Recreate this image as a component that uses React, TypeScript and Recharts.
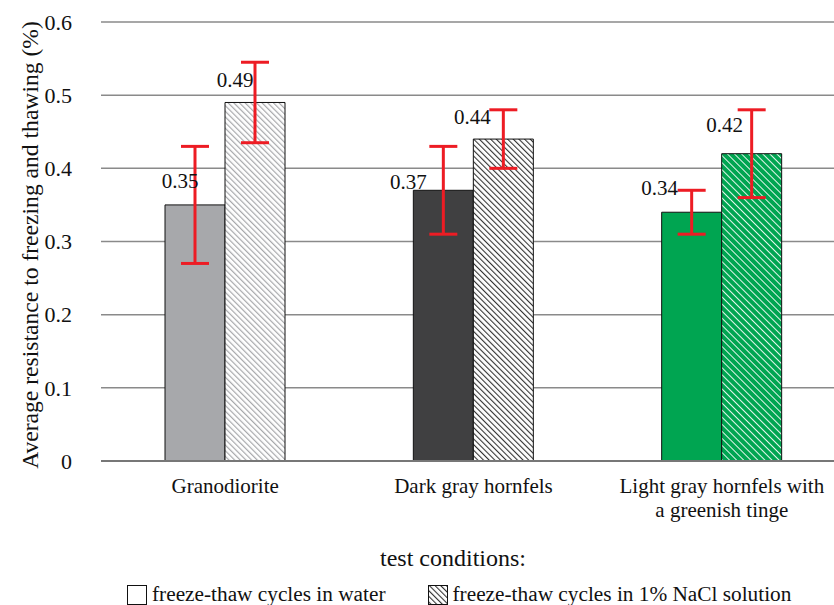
import { BarChart, Bar, XAxis, YAxis, CartesianGrid, ErrorBar, Cell, LabelList } from 'recharts'

const categories = ['Granodiorite', 'Dark gray hornfels', 'Light gray hornfels with\na greenish tinge']
const waterValues = [0.35, 0.37, 0.34]
const waterErrors = [0.08, 0.06, 0.03]
const naclValues = [0.49, 0.44, 0.42]
const naclErrors = [0.055, 0.04, 0.06]
const yTicks = [0, 0.1, 0.2, 0.3, 0.4, 0.5, 0.6]

const seriesNames = ['freeze-thaw cycles in water', 'freeze-thaw cycles in 1% NaCl solution']

// fills per category
const waterFills = ['#A7A8AB', '#404041', '#00A551']
const naclFills = ['url(#hatchLight)', 'url(#hatchDark)', 'url(#hatchGreen)']

// manual label nudges (like the hand-placed labels in the original)
const waterLabelShift = [[-15, -24], [-35, -8], [-32, -24]]
const naclLabelShift = [[-20, -22], [-31, -22], [-27, -29]]

const data = categories.map((name, i) => ({
  name,
  water: waterValues[i],
  waterErr: waterErrors[i],
  nacl: naclValues[i],
  naclErr: naclErrors[i],
}))

const FONT = 'Liberation Serif'

const makeLabel = (shift: number[][]) => (props: any) => {
  const { x, y, width, value, index } = props
  const [dx, dy] = shift[index] ?? [0, -10]
  return (
    <text
      x={x + width / 2 + dx}
      y={y + dy}
      textAnchor="middle"
      dominantBaseline="central"
      fontSize={21}
      style={{ fontFamily: FONT }}
      fill="#111"
    >
      {Number(value).toFixed(2)}
    </text>
  )
}

const CategoryTick = (props: any) => {
  const { x, y, payload } = props
  const lines = String(payload.value).split('\n')
  return (
    <g>
      {lines.map((line, i) => (
        <text
          key={i}
          x={x}
          y={y + 17 + i * 24}
          textAnchor="middle"
          dominantBaseline="central"
          fontSize={21}
          style={{ fontFamily: FONT }}
          fill="#111"
        >
          {line}
        </text>
      ))}
    </g>
  )
}

export default function App() {
  return (
    <div style={{ position: 'absolute', left: 0, top: 0, width: 834, height: 605, overflow: 'hidden', background: '#fff', fontFamily: FONT }}>
      <BarChart
        width={846}
        height={605}
        data={data}
        margin={{ top: 22, right: 0, bottom: 84, left: 0 }}
        barGap={0}
        barCategoryGap={64}
        style={{ fontFamily: FONT }}
      >
        <defs>
          <pattern id="hatchLight" patternUnits="userSpaceOnUse" width="4" height="4" patternTransform="rotate(-45)">
            <rect width="4" height="4" fill="#ffffff" />
            <line x1="0" y1="0" x2="0" y2="4" stroke="#A7A8AB" strokeWidth="2.4" />
          </pattern>
          <pattern id="hatchDark" patternUnits="userSpaceOnUse" width="4" height="4" patternTransform="rotate(-45)">
            <rect width="4" height="4" fill="#ffffff" />
            <line x1="0" y1="0" x2="0" y2="4" stroke="#333" strokeWidth="2.2" />
          </pattern>
          <pattern id="hatchGreen" patternUnits="userSpaceOnUse" width="5" height="5" patternTransform="rotate(-45)">
            <rect width="5" height="5" fill="#00A551" />
            <line x1="0" y1="0" x2="0" y2="5" stroke="#ffffff" strokeWidth="1.8" />
          </pattern>
        </defs>
        <CartesianGrid vertical={false} stroke="#8a8a8a" strokeWidth={1.5} />
        <XAxis
          dataKey="name"
          height={60}
          axisLine={{ stroke: '#777', strokeWidth: 2 }}
          tickLine={false}
          tick={<CategoryTick />}
          interval={0}
        />
        <YAxis
          width={101}
          domain={[0, 0.6]}
          ticks={yTicks}
          axisLine={false}
          tickLine={false}
          tickSize={0}
          tickMargin={29}
          tickFormatter={(v: number) => String(v)}
          tick={{ fontSize: 22, fontFamily: FONT, fill: '#111' }}
          label={() => (
            <text
              x={30}
              y={245}
              transform="rotate(-90 30 245)"
              textAnchor="middle"
              dominantBaseline="central"
              fontSize={23.6}
              style={{ fontFamily: FONT }}
              fill="#111"
            >
              Average resistance to freezing and thawing (%)
            </text>
          )}
        />
        <Bar dataKey="water" name={seriesNames[0]} stroke="#111" strokeWidth={1} isAnimationActive={false}>
          {data.map((_, i) => (
            <Cell key={i} fill={waterFills[i]} />
          ))}
          <ErrorBar dataKey="waterErr" direction="y" stroke="#ED1C24" strokeWidth={3} width={14} />
          <LabelList dataKey="water" content={makeLabel(waterLabelShift)} />
        </Bar>
        <Bar dataKey="nacl" name={seriesNames[1]} stroke="#111" strokeWidth={1} isAnimationActive={false}>
          {data.map((_, i) => (
            <Cell key={i} fill={naclFills[i]} />
          ))}
          <ErrorBar dataKey="naclErr" direction="y" stroke="#ED1C24" strokeWidth={3} width={14} />
          <LabelList dataKey="nacl" content={makeLabel(naclLabelShift)} />
        </Bar>
      </BarChart>

      <div style={{ position: 'absolute', left: 0, top: 545, width: 906, textAlign: 'center', fontSize: 24, color: '#111' }}>
        test conditions:
      </div>
      <div style={{ position: 'absolute', left: 127, top: 582, display: 'flex', alignItems: 'center', fontSize: 21.3, color: '#111', whiteSpace: 'nowrap' }}>
        <svg width={20} height={20} style={{ marginRight: 5 }}>
          <rect x={0.5} y={0.5} width={19} height={19} fill="#fff" stroke="#111" strokeWidth={1} />
        </svg>
        <span style={{ marginRight: 42 }}>{seriesNames[0]}</span>
        <svg width={20} height={20} style={{ marginRight: 5 }}>
          <rect x={0.5} y={0.5} width={19} height={19} fill="url(#hatchDark)" stroke="#111" strokeWidth={1} />
        </svg>
        <span>{seriesNames[1]}</span>
      </div>
    </div>
  )
}
